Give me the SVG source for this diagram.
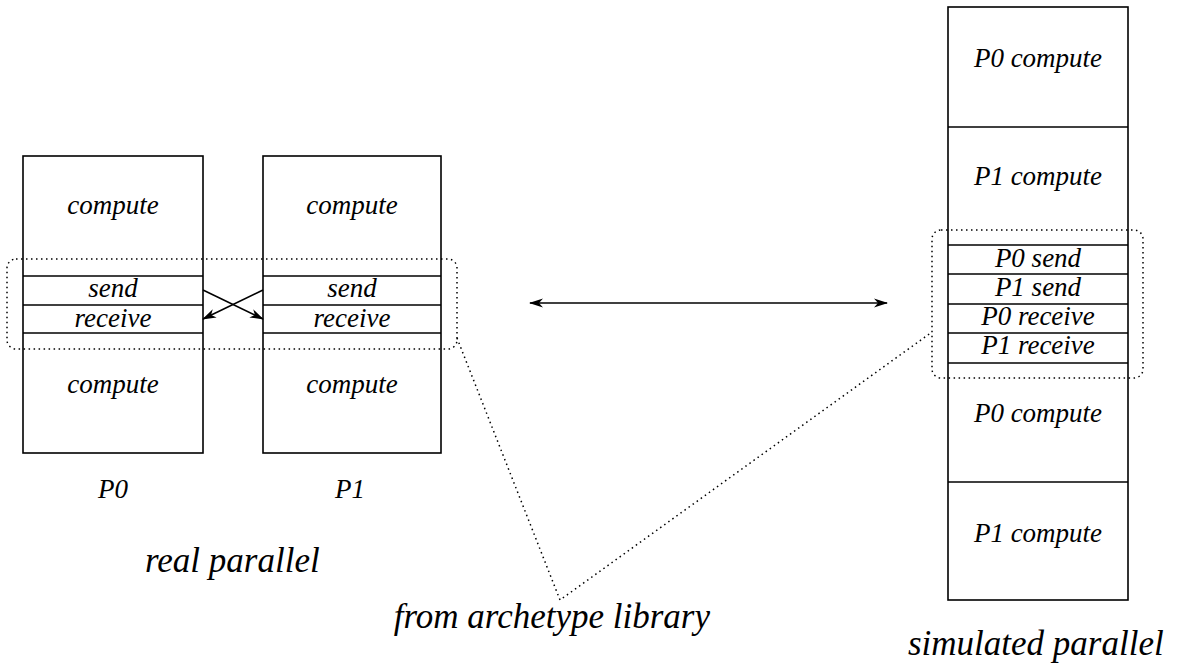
<svg xmlns="http://www.w3.org/2000/svg" width="1185" height="668" viewBox="0 0 1185 668">
<style>
.box{fill:#fff;stroke:#000;stroke-width:1.6}
.sep{stroke:#000;stroke-width:1.6}
.t{font-family:"Liberation Serif","Times New Roman",serif;font-style:italic;font-size:27px;fill:#000;text-anchor:middle}
.big{font-family:"Liberation Serif","Times New Roman",serif;font-style:italic;font-size:35px;fill:#000}
.dot{fill:none;stroke:#000;stroke-width:1.5;stroke-dasharray:1.5 3.5}
.arr{stroke:#000;stroke-width:1.6;fill:none}
</style>
<defs>
<marker id="ah" viewBox="0 0 14 10" refX="13" refY="5" markerWidth="14" markerHeight="10" markerUnits="userSpaceOnUse" orient="auto-start-reverse">
<path d="M0,0.5 L14,5 L0,9.5 L4,5 Z" fill="#000"/>
</marker>
</defs>
<rect width="1185" height="668" fill="#fff"/>
<g id="p0">
<rect class="box" x="23" y="156" width="180" height="297"/>
<line class="sep" x1="23" y1="276" x2="203" y2="276"/>
<line class="sep" x1="23" y1="305" x2="203" y2="305"/>
<line class="sep" x1="23" y1="333" x2="203" y2="333"/>
<text class="t" x="113" y="214">compute</text>
<text class="t" x="113" y="297">send</text>
<text class="t" x="113" y="327">receive</text>
<text class="t" x="113" y="393">compute</text>
<text class="t" x="113" y="498">P0</text>
</g>
<g id="p1">
<rect class="box" x="263" y="156" width="178" height="297"/>
<line class="sep" x1="263" y1="276" x2="441" y2="276"/>
<line class="sep" x1="263" y1="305" x2="441" y2="305"/>
<line class="sep" x1="263" y1="333" x2="441" y2="333"/>
<text class="t" x="352" y="214">compute</text>
<text class="t" x="352" y="297">send</text>
<text class="t" x="352" y="327">receive</text>
<text class="t" x="352" y="393">compute</text>
<text class="t" x="350" y="498">P1</text>
</g>
<g id="sim">
<rect class="box" x="948" y="7" width="180" height="593"/>
<line class="sep" x1="948" y1="127" x2="1128" y2="127"/>
<line class="sep" x1="948" y1="245" x2="1128" y2="245"/>
<line class="sep" x1="948" y1="274" x2="1128" y2="274"/>
<line class="sep" x1="948" y1="304" x2="1128" y2="304"/>
<line class="sep" x1="948" y1="333" x2="1128" y2="333"/>
<line class="sep" x1="948" y1="363" x2="1128" y2="363"/>
<line class="sep" x1="948" y1="482" x2="1128" y2="482"/>
<text class="t" x="1038" y="67">P0 compute</text>
<text class="t" x="1038" y="185">P1 compute</text>
<text class="t" x="1038" y="267">P0 send</text>
<text class="t" x="1038" y="296">P1 send</text>
<text class="t" x="1038" y="325">P0 receive</text>
<text class="t" x="1038" y="354">P1 receive</text>
<text class="t" x="1038" y="422">P0 compute</text>
<text class="t" x="1038" y="542">P1 compute</text>
</g>
<g id="groups">
<rect class="dot" x="7" y="259" width="450" height="90" rx="9"/>
<rect class="dot" x="932" y="230" width="211" height="148" rx="9"/>
</g>
<g id="connectors">
<line class="arr" x1="203" y1="290" x2="263" y2="319" marker-end="url(#ah)"/>
<line class="arr" x1="263" y1="290" x2="203" y2="319" marker-end="url(#ah)"/>
<line class="arr" x1="530" y1="303" x2="887" y2="303" marker-start="url(#ah)" marker-end="url(#ah)"/>
<polyline class="dot" points="457,338 560,600 932,332"/>
</g>
<g id="labels">
<text class="big" x="145" y="572">real parallel</text>
<text class="big" x="710" y="628" text-anchor="end">from archetype library</text>
<text class="big" x="908" y="655">simulated parallel</text>
</g>
</svg>
